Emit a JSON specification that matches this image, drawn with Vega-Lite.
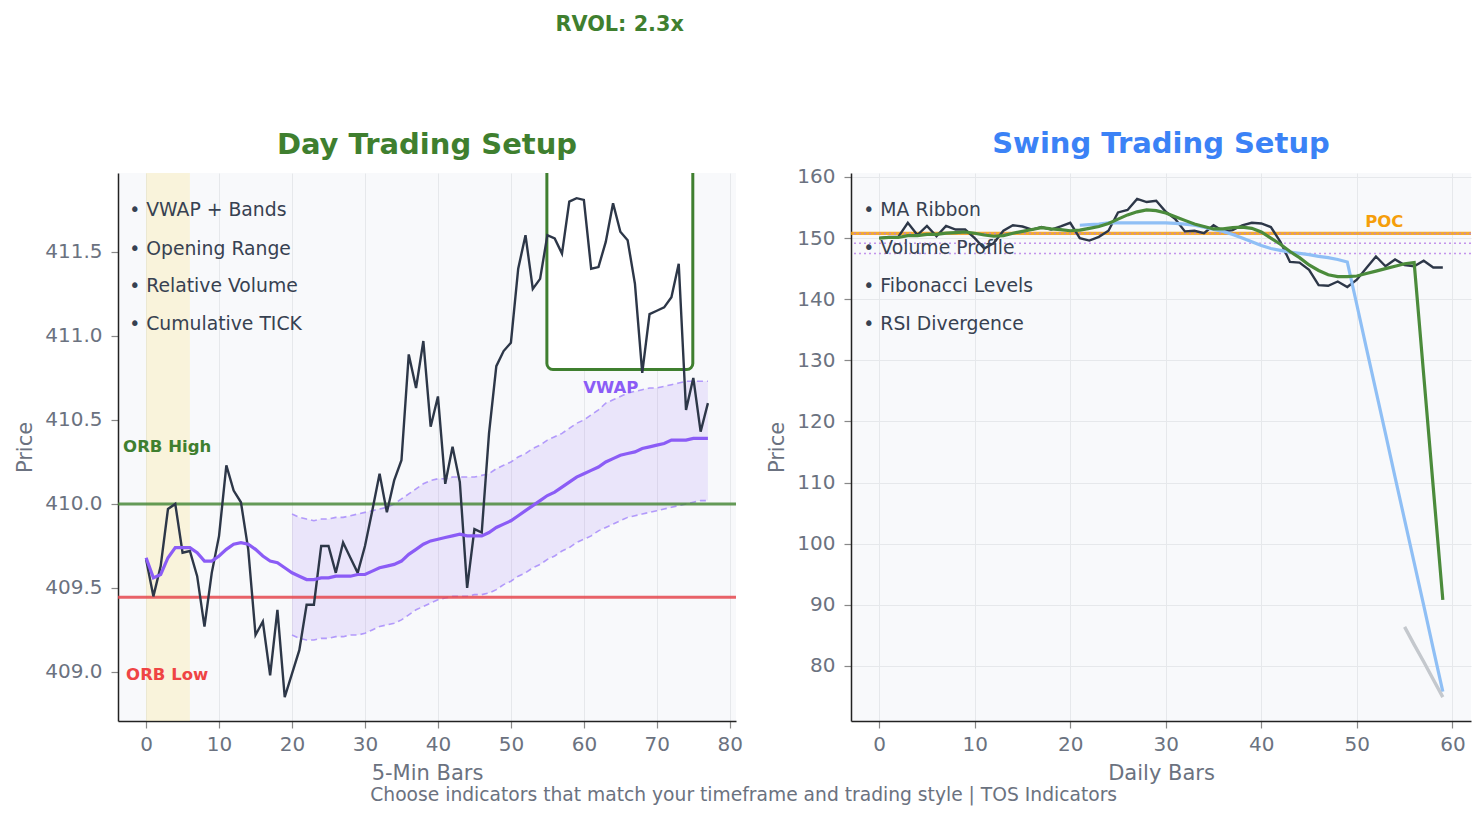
{
  "$schema": "https://vega.github.io/schema/vega-lite/v6.json",
  "background": "white",
  "padding": {"left": 14, "top": 14, "right": 5, "bottom": 5},
  "config": {
    "font": "DejaVu Sans",
    "view": {"fill": "#f8f9fb", "stroke": null},
    "axis": {
      "domainColor": "#222222", "domainWidth": 1.5,
      "tickColor": "#888888", "tickSize": 7, "tickWidth": 1.2,
      "labelColor": "#6b7280", "labelFontSize": 20, "labelPadding": 9,
      "labelFlush": false, "labelOverlap": false,
      "titleColor": "#6b7280", "titleFontSize": 21, "titleFontWeight": "normal", "titlePadding": 9,
      "gridColor": "#e6e8eb", "gridWidth": 1
    },
    "axisX": {"labelPadding": 6, "titlePadding": 8}
  },
  "datasets": {
    "day": [
      {"i": 0, "price": 409.67, "vwap": 409.68}, {"i": 1, "price": 409.45, "vwap": 409.56},
      {"i": 2, "price": 409.63, "vwap": 409.58}, {"i": 3, "price": 409.97, "vwap": 409.68},
      {"i": 4, "price": 410.00, "vwap": 409.74}, {"i": 5, "price": 409.71, "vwap": 409.74},
      {"i": 6, "price": 409.72, "vwap": 409.74}, {"i": 7, "price": 409.57, "vwap": 409.71},
      {"i": 8, "price": 409.27, "vwap": 409.66}, {"i": 9, "price": 409.59, "vwap": 409.66},
      {"i": 10, "price": 409.81, "vwap": 409.69}, {"i": 11, "price": 410.23, "vwap": 409.73},
      {"i": 12, "price": 410.08, "vwap": 409.76}, {"i": 13, "price": 410.01, "vwap": 409.77},
      {"i": 14, "price": 409.73, "vwap": 409.76}, {"i": 15, "price": 409.22, "vwap": 409.73},
      {"i": 16, "price": 409.30, "vwap": 409.69}, {"i": 17, "price": 408.98, "vwap": 409.66},
      {"i": 18, "price": 409.37, "vwap": 409.65}, {"i": 19, "price": 408.85, "vwap": 409.62},
      {"i": 20, "price": 408.99, "vwap": 409.59}, {"i": 21, "price": 409.13, "vwap": 409.57},
      {"i": 22, "price": 409.40, "vwap": 409.55}, {"i": 23, "price": 409.40, "vwap": 409.55},
      {"i": 24, "price": 409.75, "vwap": 409.56}, {"i": 25, "price": 409.75, "vwap": 409.56},
      {"i": 26, "price": 409.59, "vwap": 409.57}, {"i": 27, "price": 409.77, "vwap": 409.57},
      {"i": 28, "price": 409.68, "vwap": 409.57}, {"i": 29, "price": 409.59, "vwap": 409.58},
      {"i": 30, "price": 409.75, "vwap": 409.58}, {"i": 31, "price": 409.96, "vwap": 409.60},
      {"i": 32, "price": 410.18, "vwap": 409.62}, {"i": 33, "price": 409.95, "vwap": 409.63},
      {"i": 34, "price": 410.14, "vwap": 409.64}, {"i": 35, "price": 410.26, "vwap": 409.66},
      {"i": 36, "price": 410.89, "vwap": 409.70}, {"i": 37, "price": 410.69, "vwap": 409.73},
      {"i": 38, "price": 410.97, "vwap": 409.76}, {"i": 39, "price": 410.46, "vwap": 409.78},
      {"i": 40, "price": 410.64, "vwap": 409.79}, {"i": 41, "price": 410.12, "vwap": 409.80},
      {"i": 42, "price": 410.34, "vwap": 409.81}, {"i": 43, "price": 410.13, "vwap": 409.82},
      {"i": 44, "price": 409.50, "vwap": 409.81}, {"i": 45, "price": 409.85, "vwap": 409.81},
      {"i": 46, "price": 409.83, "vwap": 409.81}, {"i": 47, "price": 410.42, "vwap": 409.83},
      {"i": 48, "price": 410.82, "vwap": 409.86}, {"i": 49, "price": 410.91, "vwap": 409.88},
      {"i": 50, "price": 410.96, "vwap": 409.90}, {"i": 51, "price": 411.40, "vwap": 409.93},
      {"i": 52, "price": 411.60, "vwap": 409.96}, {"i": 53, "price": 411.28, "vwap": 409.99},
      {"i": 54, "price": 411.34, "vwap": 410.02}, {"i": 55, "price": 411.60, "vwap": 410.05},
      {"i": 56, "price": 411.58, "vwap": 410.07}, {"i": 57, "price": 411.49, "vwap": 410.10},
      {"i": 58, "price": 411.80, "vwap": 410.13}, {"i": 59, "price": 411.82, "vwap": 410.16},
      {"i": 60, "price": 411.81, "vwap": 410.18}, {"i": 61, "price": 411.40, "vwap": 410.20},
      {"i": 62, "price": 411.41, "vwap": 410.22}, {"i": 63, "price": 411.56, "vwap": 410.25},
      {"i": 64, "price": 411.79, "vwap": 410.27}, {"i": 65, "price": 411.62, "vwap": 410.29},
      {"i": 66, "price": 411.57, "vwap": 410.30}, {"i": 67, "price": 411.31, "vwap": 410.31},
      {"i": 68, "price": 410.78, "vwap": 410.33}, {"i": 69, "price": 411.13, "vwap": 410.34},
      {"i": 70, "price": 411.15, "vwap": 410.35}, {"i": 71, "price": 411.17, "vwap": 410.36},
      {"i": 72, "price": 411.23, "vwap": 410.38}, {"i": 73, "price": 411.43, "vwap": 410.38},
      {"i": 74, "price": 410.56, "vwap": 410.38}, {"i": 75, "price": 410.75, "vwap": 410.39},
      {"i": 76, "price": 410.43, "vwap": 410.39}, {"i": 77, "price": 410.60, "vwap": 410.39}
    ],
    "bands": [
      {"i": 20, "upper": 409.94, "lower": 409.22}, {"i": 21, "upper": 409.92, "lower": 409.20},
      {"i": 22, "upper": 409.91, "lower": 409.19}, {"i": 23, "upper": 409.90, "lower": 409.19},
      {"i": 24, "upper": 409.91, "lower": 409.20}, {"i": 25, "upper": 409.91, "lower": 409.20},
      {"i": 26, "upper": 409.92, "lower": 409.21}, {"i": 27, "upper": 409.92, "lower": 409.21},
      {"i": 28, "upper": 409.93, "lower": 409.22}, {"i": 29, "upper": 409.94, "lower": 409.22},
      {"i": 30, "upper": 409.95, "lower": 409.23}, {"i": 31, "upper": 409.96, "lower": 409.25},
      {"i": 32, "upper": 409.97, "lower": 409.27}, {"i": 33, "upper": 409.98, "lower": 409.28},
      {"i": 34, "upper": 410.00, "lower": 409.29}, {"i": 35, "upper": 410.03, "lower": 409.31},
      {"i": 36, "upper": 410.06, "lower": 409.34}, {"i": 37, "upper": 410.09, "lower": 409.37},
      {"i": 38, "upper": 410.12, "lower": 409.39}, {"i": 39, "upper": 410.14, "lower": 409.41},
      {"i": 40, "upper": 410.15, "lower": 409.43}, {"i": 41, "upper": 410.15, "lower": 409.44},
      {"i": 42, "upper": 410.16, "lower": 409.45}, {"i": 43, "upper": 410.16, "lower": 409.45},
      {"i": 44, "upper": 410.16, "lower": 409.45}, {"i": 45, "upper": 410.16, "lower": 409.46},
      {"i": 46, "upper": 410.17, "lower": 409.46}, {"i": 47, "upper": 410.18, "lower": 409.47},
      {"i": 48, "upper": 410.21, "lower": 409.49}, {"i": 49, "upper": 410.23, "lower": 409.52},
      {"i": 50, "upper": 410.25, "lower": 409.54}, {"i": 51, "upper": 410.28, "lower": 409.57},
      {"i": 52, "upper": 410.30, "lower": 409.59}, {"i": 53, "upper": 410.33, "lower": 409.62},
      {"i": 54, "upper": 410.35, "lower": 409.64}, {"i": 55, "upper": 410.38, "lower": 409.67},
      {"i": 56, "upper": 410.40, "lower": 409.69}, {"i": 57, "upper": 410.42, "lower": 409.72},
      {"i": 58, "upper": 410.45, "lower": 409.74}, {"i": 59, "upper": 410.48, "lower": 409.77},
      {"i": 60, "upper": 410.50, "lower": 409.79}, {"i": 61, "upper": 410.53, "lower": 409.81},
      {"i": 62, "upper": 410.56, "lower": 409.84}, {"i": 63, "upper": 410.60, "lower": 409.86},
      {"i": 64, "upper": 410.62, "lower": 409.88}, {"i": 65, "upper": 410.64, "lower": 409.90},
      {"i": 66, "upper": 410.66, "lower": 409.92}, {"i": 67, "upper": 410.67, "lower": 409.93},
      {"i": 68, "upper": 410.68, "lower": 409.94}, {"i": 69, "upper": 410.69, "lower": 409.95},
      {"i": 70, "upper": 410.69, "lower": 409.96}, {"i": 71, "upper": 410.70, "lower": 409.97},
      {"i": 72, "upper": 410.71, "lower": 409.98}, {"i": 73, "upper": 410.72, "lower": 409.99},
      {"i": 74, "upper": 410.73, "lower": 410.00}, {"i": 75, "upper": 410.73, "lower": 410.01},
      {"i": 76, "upper": 410.73, "lower": 410.02}, {"i": 77, "upper": 410.73, "lower": 410.02}
    ],
    "swing": [
      {"i": 0, "price": 150.0, "ema": 150.0}, {"i": 1, "price": 150.2, "ema": 150.1},
      {"i": 2, "price": 150.2, "ema": 150.1}, {"i": 3, "price": 152.5, "ema": 150.4},
      {"i": 4, "price": 150.5, "ema": 150.4}, {"i": 5, "price": 152.0, "ema": 150.6},
      {"i": 6, "price": 150.3, "ema": 150.6}, {"i": 7, "price": 152.0, "ema": 150.8},
      {"i": 8, "price": 151.4, "ema": 150.9}, {"i": 9, "price": 151.4, "ema": 151.0},
      {"i": 10, "price": 150.0, "ema": 150.8}, {"i": 11, "price": 148.3, "ema": 150.5},
      {"i": 12, "price": 149.2, "ema": 150.3}, {"i": 13, "price": 151.2, "ema": 150.4},
      {"i": 14, "price": 152.1, "ema": 150.8}, {"i": 15, "price": 151.9, "ema": 151.1},
      {"i": 16, "price": 151.4, "ema": 151.4}, {"i": 17, "price": 151.8, "ema": 151.7},
      {"i": 18, "price": 151.4, "ema": 151.5}, {"i": 19, "price": 151.9, "ema": 151.4},
      {"i": 20, "price": 152.5, "ema": 151.2}, {"i": 21, "price": 150.0, "ema": 151.3, "sma": 152.1},
      {"i": 22, "price": 149.6, "ema": 151.6, "sma": 152.2}, {"i": 23, "price": 150.2, "ema": 151.9, "sma": 152.3},
      {"i": 24, "price": 151.2, "ema": 152.4, "sma": 152.5}, {"i": 25, "price": 154.2, "ema": 153.1, "sma": 152.5},
      {"i": 26, "price": 154.6, "ema": 153.8, "sma": 152.5}, {"i": 27, "price": 156.4, "ema": 154.3, "sma": 152.5},
      {"i": 28, "price": 155.9, "ema": 154.6, "sma": 152.5}, {"i": 29, "price": 156.1, "ema": 154.5, "sma": 152.5},
      {"i": 30, "price": 154.3, "ema": 154.1, "sma": 152.5}, {"i": 31, "price": 153.1, "ema": 153.5, "sma": 152.4},
      {"i": 32, "price": 151.1, "ema": 152.9, "sma": 152.3}, {"i": 33, "price": 151.2, "ema": 152.3, "sma": 152.1},
      {"i": 34, "price": 150.8, "ema": 151.9, "sma": 151.8}, {"i": 35, "price": 152.1, "ema": 151.5, "sma": 151.4},
      {"i": 36, "price": 151.1, "ema": 151.5, "sma": 151.1}, {"i": 37, "price": 151.3, "ema": 151.7, "sma": 150.6},
      {"i": 38, "price": 152.1, "ema": 151.8, "sma": 150.0}, {"i": 39, "price": 152.5, "ema": 151.6, "sma": 149.4},
      {"i": 40, "price": 152.4, "ema": 151.0, "sma": 148.8}, {"i": 41, "price": 151.8, "ema": 150.0, "sma": 148.3},
      {"i": 42, "price": 149.4, "ema": 149.0, "sma": 148.0}, {"i": 43, "price": 146.1, "ema": 147.8, "sma": 147.7},
      {"i": 44, "price": 146.0, "ema": 146.8, "sma": 147.5}, {"i": 45, "price": 144.8, "ema": 145.6, "sma": 147.3},
      {"i": 46, "price": 142.3, "ema": 144.7, "sma": 147.0}, {"i": 47, "price": 142.2, "ema": 144.0, "sma": 146.8},
      {"i": 48, "price": 142.9, "ema": 143.7, "sma": 146.5}, {"i": 49, "price": 142.0, "ema": 143.7, "sma": 146.1},
      {"i": 50, "price": 143.2, "ema": 143.8, "sma": 139.1}, {"i": 51, "price": 145.1, "ema": 144.2, "sma": 132.0},
      {"i": 52, "price": 147.0, "ema": 144.6, "sma": 125.0}, {"i": 53, "price": 145.4, "ema": 145.0, "sma": 118.0},
      {"i": 54, "price": 146.5, "ema": 145.4, "sma": 110.9}, {"i": 55, "price": 145.6, "ema": 145.8, "sma": 103.9, "div": 86.4},
      {"i": 56, "price": 145.4, "ema": 146.0, "sma": 96.9, "div": 83.5}, {"i": 57, "price": 146.3, "ema": 127.6, "sma": 89.9, "div": 80.7},
      {"i": 58, "price": 145.2, "ema": 109.2, "sma": 82.8, "div": 77.8}, {"i": 59, "price": 145.2, "ema": 90.8, "sma": 75.8, "div": 74.9}
    ]
  },
  "title": {
    "text": "Choose indicators that match your timeframe and trading style | TOS Indicators",
    "orient": "bottom", "anchor": "middle", "fontSize": 18.7, "fontWeight": "normal",
    "color": "#6b7280", "offset": 3
  },
  "vconcat": [
    {
      "title": {
        "text": "RVOL: 2.3x", "anchor": "middle", "dx": -124, "fontSize": 20.8,
        "fontWeight": "bold", "color": "#3f7f2f", "offset": 94
      },
      "spacing": 23,
      "hconcat": [
        {
          "width": 618, "height": 548,
          "title": {"text": "Day Trading Setup", "color": "#3f7f2f", "fontSize": 29, "fontWeight": "bold", "offset": 13},
          "layer": [
            {
              "data": {"values": [{"x0": 0, "x1": 6}]},
              "mark": {"type": "rect", "color": "#fde68a", "opacity": 0.28},
              "encoding": {
                "x": {"field": "x0", "type": "quantitative", "scale": {"domain": [-3.85, 80.85], "nice": false, "zero": false},
                      "axis": {"title": "5-Min Bars", "values": [0, 10, 20, 30, 40, 50, 60, 70, 80]}},
                "x2": {"field": "x1"},
                "y": {"datum": 408.708, "type": "quantitative", "scale": {"domain": [408.708, 411.97], "nice": false, "zero": false},
                      "axis": {"title": "Price", "values": [409, 409.5, 410, 410.5, 411, 411.5], "format": ".1f"}},
                "y2": {"datum": 411.97}
              }
            },
            {
              "data": {"name": "bands"},
              "mark": {"type": "area", "color": "#8b5cf6", "opacity": 0.12},
              "encoding": {
                "x": {"field": "i", "type": "quantitative", "scale": {"domain": [-3.85, 80.85], "nice": false, "zero": false}},
                "y": {"field": "lower", "type": "quantitative", "scale": {"domain": [408.708, 411.97], "nice": false, "zero": false}},
                "y2": {"field": "upper"}
              }
            },
            {
              "data": {"name": "bands"},
              "mark": {"type": "line", "color": "#a78bfa", "strokeWidth": 1.6, "strokeDash": [6, 4], "opacity": 0.85},
              "encoding": {
                "x": {"field": "i", "type": "quantitative", "scale": {"domain": [-3.85, 80.85], "nice": false, "zero": false}},
                "y": {"field": "upper", "type": "quantitative", "scale": {"domain": [408.708, 411.97], "nice": false, "zero": false}}
              }
            },
            {
              "data": {"name": "bands"},
              "mark": {"type": "line", "color": "#a78bfa", "strokeWidth": 1.6, "strokeDash": [6, 4], "opacity": 0.85},
              "encoding": {
                "x": {"field": "i", "type": "quantitative", "scale": {"domain": [-3.85, 80.85], "nice": false, "zero": false}},
                "y": {"field": "lower", "type": "quantitative", "scale": {"domain": [408.708, 411.97], "nice": false, "zero": false}}
              }
            },
            {
              "data": {"values": [{"bx0": 54.93, "bx1": 74.93, "by0": 410.8, "by1": 412.6}]},
              "mark": {"type": "rect", "fill": "white", "stroke": "#3f7f2f", "strokeWidth": 3, "cornerRadius": 6, "clip": true},
              "encoding": {
                "x": {"field": "bx0", "type": "quantitative", "scale": {"domain": [-3.85, 80.85], "nice": false, "zero": false}},
                "x2": {"field": "bx1"},
                "y": {"field": "by0", "type": "quantitative", "scale": {"domain": [408.708, 411.97], "nice": false, "zero": false}},
                "y2": {"field": "by1"}
              }
            },
            {
              "data": {"values": [{"level": 410.0}]},
              "mark": {"type": "rule", "color": "#4a8a3a", "strokeWidth": 3, "opacity": 0.85},
              "encoding": {
                "y": {"field": "level", "type": "quantitative", "scale": {"domain": [408.708, 411.97], "nice": false, "zero": false}}
              }
            },
            {
              "data": {"values": [{"level": 409.445}]},
              "mark": {"type": "rule", "color": "#e5484d", "strokeWidth": 3, "opacity": 0.85},
              "encoding": {
                "y": {"field": "level", "type": "quantitative", "scale": {"domain": [408.708, 411.97], "nice": false, "zero": false}}
              }
            },
            {
              "data": {"name": "day"},
              "mark": {"type": "line", "color": "#2d3748", "strokeWidth": 2.4},
              "encoding": {
                "x": {"field": "i", "type": "quantitative", "scale": {"domain": [-3.85, 80.85], "nice": false, "zero": false}},
                "y": {"field": "price", "type": "quantitative", "scale": {"domain": [408.708, 411.97], "nice": false, "zero": false}}
              }
            },
            {
              "data": {"name": "day"},
              "mark": {"type": "line", "color": "#8b5cf6", "strokeWidth": 3.2},
              "encoding": {
                "x": {"field": "i", "type": "quantitative", "scale": {"domain": [-3.85, 80.85], "nice": false, "zero": false}},
                "y": {"field": "vwap", "type": "quantitative", "scale": {"domain": [408.708, 411.97], "nice": false, "zero": false}}
              }
            },
            {
              "data": {"values": [
                {"t": "• VWAP + Bands", "x": -2.32, "y": 411.75},
                {"t": "• Opening Range", "x": -2.32, "y": 411.52},
                {"t": "• Relative Volume", "x": -2.32, "y": 411.30},
                {"t": "• Cumulative TICK", "x": -2.32, "y": 411.07}
              ]},
              "mark": {"type": "text", "align": "left", "baseline": "middle", "fontSize": 18.8, "color": "#374151"},
              "encoding": {
                "x": {"field": "x", "type": "quantitative", "scale": {"domain": [-3.85, 80.85], "nice": false, "zero": false}},
                "y": {"field": "y", "type": "quantitative", "scale": {"domain": [408.708, 411.97], "nice": false, "zero": false}},
                "text": {"field": "t"}
              }
            },
            {
              "data": {"values": [{"t": "ORB High", "x": -3.15, "y": 410.34}]},
              "mark": {"type": "text", "align": "left", "baseline": "middle", "fontSize": 16.5, "fontWeight": "bold", "color": "#3f7f2f"},
              "encoding": {
                "x": {"field": "x", "type": "quantitative", "scale": {"domain": [-3.85, 80.85], "nice": false, "zero": false}},
                "y": {"field": "y", "type": "quantitative", "scale": {"domain": [408.708, 411.97], "nice": false, "zero": false}},
                "text": {"field": "t"}
              }
            },
            {
              "data": {"values": [{"t": "ORB Low", "x": -2.74, "y": 408.982}]},
              "mark": {"type": "text", "align": "left", "baseline": "middle", "fontSize": 16.5, "fontWeight": "bold", "color": "#ef4444"},
              "encoding": {
                "x": {"field": "x", "type": "quantitative", "scale": {"domain": [-3.85, 80.85], "nice": false, "zero": false}},
                "y": {"field": "y", "type": "quantitative", "scale": {"domain": [408.708, 411.97], "nice": false, "zero": false}},
                "text": {"field": "t"}
              }
            },
            {
              "data": {"values": [{"t": "VWAP", "x": 63.7, "y": 410.69}]},
              "mark": {"type": "text", "align": "center", "baseline": "middle", "fontSize": 16.5, "fontWeight": "bold", "color": "#8b5cf6"},
              "encoding": {
                "x": {"field": "x", "type": "quantitative", "scale": {"domain": [-3.85, 80.85], "nice": false, "zero": false}},
                "y": {"field": "y", "type": "quantitative", "scale": {"domain": [408.708, 411.97], "nice": false, "zero": false}},
                "text": {"field": "t"}
              }
            }
          ]
        },
        {
          "width": 620, "height": 548,
          "title": {"text": "Swing Trading Setup", "color": "#3b82f6", "fontSize": 29, "fontWeight": "bold", "offset": 8},
          "layer": [
            {
              "data": {"values": [{"level": 150.76}]},
              "mark": {"type": "rule", "color": "#f59e0b", "strokeWidth": 3.2, "opacity": 0.85},
              "encoding": {
                "y": {"field": "level", "type": "quantitative", "scale": {"domain": [71.0, 160.65], "nice": false, "zero": false},
                      "axis": {"title": "Price", "values": [80, 90, 100, 110, 120, 130, 140, 150, 160]}}
              }
            },
            {
              "data": {"values": [{"level": 150.76}, {"level": 149.15}, {"level": 147.5}]},
              "mark": {"type": "rule", "color": "#b57be8", "strokeWidth": 1.5, "strokeDash": [2, 3], "opacity": 0.8},
              "encoding": {
                "y": {"field": "level", "type": "quantitative", "scale": {"domain": [71.0, 160.65], "nice": false, "zero": false}}
              }
            },
            {
              "data": {"name": "swing"},
              "mark": {"type": "line", "color": "#2d3748", "strokeWidth": 2.4},
              "encoding": {
                "x": {"field": "i", "type": "quantitative", "scale": {"domain": [-2.95, 61.95], "nice": false, "zero": false},
                      "axis": {"title": "Daily Bars", "values": [0, 10, 20, 30, 40, 50, 60]}},
                "y": {"field": "price", "type": "quantitative", "scale": {"domain": [71.0, 160.65], "nice": false, "zero": false}}
              }
            },
            {
              "data": {"name": "swing"},
              "mark": {"type": "line", "color": "#8fbff5", "strokeWidth": 3.2},
              "encoding": {
                "x": {"field": "i", "type": "quantitative", "scale": {"domain": [-2.95, 61.95], "nice": false, "zero": false}},
                "y": {"field": "sma", "type": "quantitative", "scale": {"domain": [71.0, 160.65], "nice": false, "zero": false}}
              }
            },
            {
              "data": {"name": "swing"},
              "mark": {"type": "line", "color": "#4b8b3b", "strokeWidth": 3.2},
              "encoding": {
                "x": {"field": "i", "type": "quantitative", "scale": {"domain": [-2.95, 61.95], "nice": false, "zero": false}},
                "y": {"field": "ema", "type": "quantitative", "scale": {"domain": [71.0, 160.65], "nice": false, "zero": false}}
              }
            },
            {
              "data": {"name": "swing"},
              "mark": {"type": "line", "color": "#c4c8cd", "strokeWidth": 3.4},
              "encoding": {
                "x": {"field": "i", "type": "quantitative", "scale": {"domain": [-2.95, 61.95], "nice": false, "zero": false}},
                "y": {"field": "div", "type": "quantitative", "scale": {"domain": [71.0, 160.65], "nice": false, "zero": false}}
              }
            },
            {
              "data": {"values": [
                {"t": "• MA Ribbon", "x": -1.66, "y": 154.6},
                {"t": "• Volume Profile", "x": -1.66, "y": 148.38},
                {"t": "• Fibonacci Levels", "x": -1.66, "y": 142.17},
                {"t": "• RSI Divergence", "x": -1.66, "y": 135.95}
              ]},
              "mark": {"type": "text", "align": "left", "baseline": "middle", "fontSize": 18.8, "color": "#374151"},
              "encoding": {
                "x": {"field": "x", "type": "quantitative", "scale": {"domain": [-2.95, 61.95], "nice": false, "zero": false}},
                "y": {"field": "y", "type": "quantitative", "scale": {"domain": [71.0, 160.65], "nice": false, "zero": false}},
                "text": {"field": "t"}
              }
            },
            {
              "data": {"values": [{"t": "POC", "x": 52.88, "y": 152.64}]},
              "mark": {"type": "text", "align": "center", "baseline": "middle", "fontSize": 16.5, "fontWeight": "bold", "color": "#f59e0b"},
              "encoding": {
                "x": {"field": "x", "type": "quantitative", "scale": {"domain": [-2.95, 61.95], "nice": false, "zero": false}},
                "y": {"field": "y", "type": "quantitative", "scale": {"domain": [71.0, 160.65], "nice": false, "zero": false}},
                "text": {"field": "t"}
              }
            }
          ]
        }
      ]
    }
  ]
}
